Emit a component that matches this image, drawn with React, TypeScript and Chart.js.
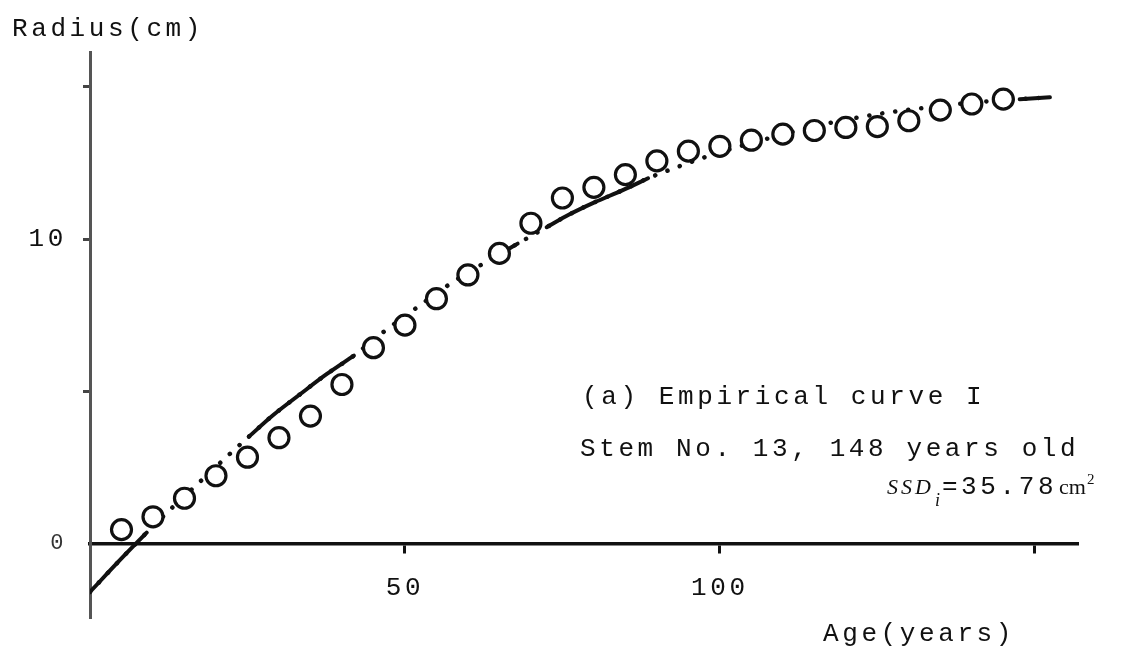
import { useEffect, useRef } from 'react';
import { Chart, registerables } from 'chart.js';

Chart.register(...registerables);

// ---- data ----
const pointAges = [5, 10, 15, 20, 25, 30, 35, 40, 45, 50, 55, 60, 65, 70, 75, 80, 85, 90, 95, 100, 105, 110, 115, 120, 125, 130, 135, 140, 145];
const pointRadii = [0.45, 0.87, 1.48, 2.22, 2.83, 3.47, 4.18, 5.22, 6.43, 7.17, 8.04, 8.82, 9.53, 10.52, 11.35, 11.7, 12.12, 12.57, 12.89, 13.05, 13.25, 13.45, 13.57, 13.67, 13.7, 13.89, 14.24, 14.44, 14.6];

const curveAges = [0, 5, 9, 13, 17.5, 22, 25.2, 29, 33.3, 37.5, 41.9, 46.3, 51.9, 56.9, 61.9, 66, 67.9, 72.5, 76, 80, 84.5, 88.6, 93, 97.3, 102, 107, 112, 117.1, 122, 127, 132, 137, 142, 147.6, 152.4];
const curveRadii = [-1.6, -0.5, 0.35, 1.16, 2.03, 2.9, 3.5, 4.2, 4.89, 5.55, 6.17, 6.9, 7.75, 8.49, 9.13, 9.62, 9.85, 10.39, 10.8, 11.2, 11.6, 12.0, 12.35, 12.67, 12.98, 13.27, 13.55, 13.8, 14.0, 14.17, 14.3, 14.42, 14.52, 14.6, 14.66];

// age ranges where the fitted curve is drawn solid (elsewhere dotted)
const solidSpans = [[0, 9], [25.2, 41.9], [66, 67.9], [72.5, 88.6], [147.6, 152.4]];

const xTickValues = [50, 100, 150];
const xTickLabels = ['50', '100', ''];
const yTickValues = [0, 5, 10, 15];
const yTickLabels = ['0', '', '10', ''];

const yTitle = 'Radius(cm)';
const xTitle = 'Age(years)';
const noteLine1 = '(a) Empirical curve I';
const noteLine2 = 'Stem No. 13, 148 years old';
const ssdName = 'SSD';
const ssdSub = 'i';
const ssdValue = '=35.78';
const ssdUnit = 'cm';
const ssdUnitSup = '2';

const MONO = '"Liberation Mono", "DejaVu Sans Mono", monospace';
const SERIF = '"Liberation Serif", "DejaVu Serif", serif';
const SPACING = '3.6px';

const spacingPlugin = {
  id: 'spacing',
  beforeUpdate(chart: any) {
    chart.ctx.letterSpacing = SPACING;
  },
  beforeDraw(chart: any) {
    chart.ctx.letterSpacing = SPACING;
  },
};

const textPlugin = {
  id: 'texts',
  afterDraw(chart: any) {
    const ctx = chart.ctx as CanvasRenderingContext2D;
    ctx.save();
    ctx.fillStyle = '#111';
    ctx.textAlign = 'left';
    ctx.textBaseline = 'alphabetic';
    ctx.font = `26px ${MONO}`;
    (ctx as any).letterSpacing = SPACING;
    ctx.fillText(yTitle, 12, 36);
    ctx.fillText(xTitle, 823, 641);
    ctx.fillText(noteLine1, 582, 404);
    ctx.fillText(noteLine2, 580, 456);

    let x = 887;
    const base = 494;
    ctx.font = `italic 22px ${SERIF}`;
    (ctx as any).letterSpacing = '3px';
    ctx.fillText(ssdName, x, base);
    x += ctx.measureText(ssdName).width;
    ctx.font = `italic 18px ${SERIF}`;
    (ctx as any).letterSpacing = '0px';
    ctx.fillText(ssdSub, x + 1, base + 12);
    x += 8;
    ctx.font = `26px ${MONO}`;
    (ctx as any).letterSpacing = SPACING;
    ctx.fillText(ssdValue, x, base);
    x += ctx.measureText(ssdValue).width + 2;
    ctx.font = `22px ${SERIF}`;
    (ctx as any).letterSpacing = '0px';
    ctx.fillText(ssdUnit, x, base);
    x += ctx.measureText(ssdUnit).width + 1;
    ctx.font = `15px ${SERIF}`;
    ctx.fillText(ssdUnitSup, x, base - 10);
    ctx.restore();
  },
};

export default function App() {
  const ref = useRef<HTMLCanvasElement | null>(null);

  useEffect(() => {
    document.body.style.margin = '0';
    const canvas = ref.current;
    if (!canvas) return;

    const circles = pointAges.map((a, i) => ({ x: a, y: pointRadii[i] }));
    const curve = curveAges.map((a, i) => ({ x: a, y: curveRadii[i] }));

    const solidSets = solidSpans.map(([a, b]) => ({
      type: 'scatter' as const,
      data: curve.filter((p) => p.x >= a && p.x <= b),
      showLine: true,
      borderColor: '#111',
      borderWidth: 4,
      borderCapStyle: 'round' as const,
      pointRadius: 0,
      pointHoverRadius: 0,
      cubicInterpolationMode: 'monotone' as const,
    }));

    const chart = new Chart(canvas, {
      type: 'scatter',
      data: {
        datasets: [
          {
            data: circles,
            showLine: false,
            pointStyle: 'circle',
            pointRadius: 10,
            pointHoverRadius: 10,
            pointBorderWidth: 3.2,
            pointBackgroundColor: '#ffffff',
            pointBorderColor: '#111',
          },
          ...solidSets,
          {
            data: curve,
            showLine: true,
            borderColor: '#111',
            borderWidth: 4.5,
            borderDash: [0.1, 13],
            borderCapStyle: 'round',
            pointRadius: 0,
            pointHoverRadius: 0,
            cubicInterpolationMode: 'monotone',
          },
        ] as any,
      },
      options: {
        animation: false,
        responsive: false,
        devicePixelRatio: 1,
        events: [],
        layout: { padding: { left: 0, right: 66, top: 52, bottom: 17 } },
        plugins: {
          legend: { display: false },
          tooltip: { enabled: false },
          title: { display: false },
        },
        scales: {
          x: {
            type: 'linear',
            min: 0,
            max: 156.7,
            position: { y: 0 } as any,
            afterBuildTicks: (axis: any) => {
              axis.ticks = xTickValues.map((v) => ({ value: v }));
            },
            grid: {
              display: true,
              drawOnChartArea: false,
              drawTicks: true,
              tickLength: 8,
              color: '#111',
              lineWidth: 3,
            },
            border: { display: true, color: '#111', width: 3.5 },
            ticks: {
              autoSkip: false,
              maxRotation: 0,
              padding: 21,
              color: '#111',
              font: { family: MONO, size: 26 },
              callback: (v: any) => {
                const i = xTickValues.indexOf(Number(v));
                return i >= 0 ? xTickLabels[i] : '';
              },
            },
          },
          y: {
            type: 'linear',
            min: -2.45,
            max: 16.15,
            position: 'left',
            afterFit: (s: any) => {
              s.width = 90;
            },
            afterBuildTicks: (axis: any) => {
              axis.ticks = yTickValues.map((v) => ({ value: v }));
            },
            grid: {
              display: true,
              drawOnChartArea: false,
              drawTicks: true,
              tickLength: 7,
              color: (c: any) => (c.tick && c.tick.value === 0 ? 'rgba(0,0,0,0)' : '#444'),
              lineWidth: 3,
            },
            border: { display: true, color: '#555', width: 3 },
            ticks: {
              autoSkip: false,
              padding: 16,
              color: (c: any) => (c.tick && c.tick.value === 0 ? '#333' : '#111'),
              font: (c: any) => ({ family: MONO, size: c.tick && c.tick.value === 0 ? 22 : 26 }),
              callback: (v: any) => {
                const i = yTickValues.indexOf(Number(v));
                return i >= 0 ? yTickLabels[i] : '';
              },
            },
          },
        },
      },
      plugins: [spacingPlugin, textPlugin],
    });

    return () => chart.destroy();
  }, []);

  return (
    <div style={{ width: 1143, height: 647, background: '#fff' }}>
      <canvas ref={ref} width={1143} height={647} style={{ display: 'block' }} />
    </div>
  );
}
